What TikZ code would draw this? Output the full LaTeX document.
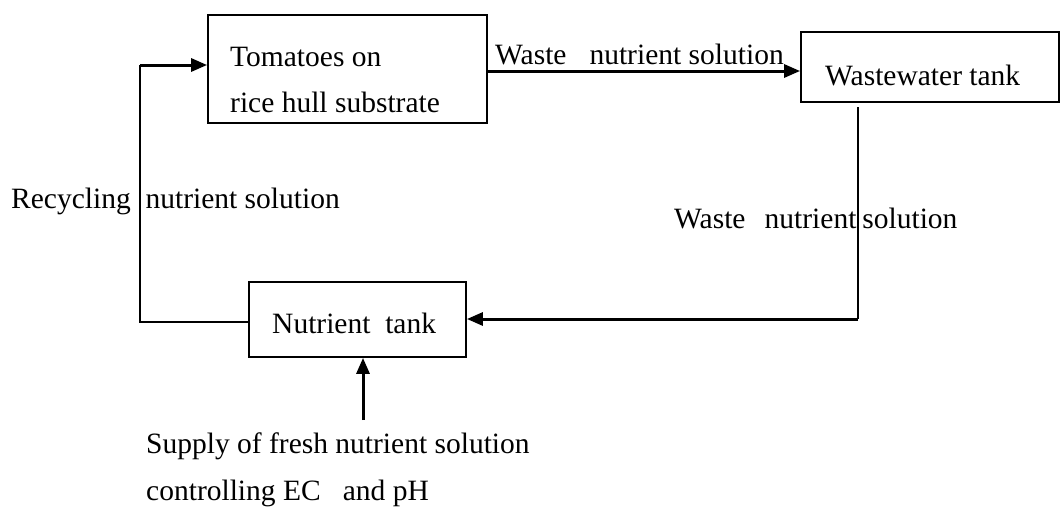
\documentclass[tikz,border=0pt]{standalone}
\usepackage{fontspec}
\setmainfont{Liberation Serif}
\usetikzlibrary{arrows.meta}
\begin{document}
\begin{tikzpicture}[x=1pt,y=-1pt,
  box/.style={draw,line width=1.8pt,inner sep=0pt},
  txt/.style={anchor=base west,inner sep=0pt,font=\fontsize{29.5}{29.5}\selectfont},
  thin line/.style={line width=1.6pt},
  flow/.style={line width=3pt,-{Triangle[length=16pt,width=13pt]}}]
\useasboundingbox (0,0) rectangle (1061,509);
% boxes
\node[box,minimum width=279pt,minimum height=108pt] (tom) at (347.5,69) {};
\node[box,minimum width=258pt,minimum height=70pt] (ww) at (930,67) {};
\node[box,minimum width=217pt,minimum height=75pt] (nt) at (357.5,319.5) {};
% box texts
\node[txt] (t1) at (230,66) {Tomatoes on};
\node[txt] (t2) at (230,112) {rice hull substrate};
\node[txt] (t3) at (825,85) {Wastewater tank};
\node[txt] (t4) at (272,333) {Nutrient\hspace{0.5em}tank};
% labels
\node[txt] (l1) at (495,64) {Waste\hspace{0.78em}nutrient solution};
\node[txt] (l2) at (11,208) {Recycling\hspace{0.5em}nutrient solution};
\node[txt] (l3) at (674,228) {Waste\hspace{0.65em}nutrient\hspace{0.2em}solution};
\node[txt] (l4) at (146,453) {Supply of fresh nutrient solution};
\node[txt] (l5) at (146,500) {controlling EC\hspace{0.75em}and pH};
% coordinates
\coordinate (rl) at (140,65);
\coordinate (lc) at (140,322);
\coordinate (rt) at (858,107);
\coordinate (rb) at (858,319);
\coordinate (sb) at (363,420);
% connectors
\draw[thin line] (nt.west |- lc) -- (lc) -- (rl);
\draw[flow] (rl) -- (tom.west |- rl);
\draw[flow] (tom.east |- 0,71) -- (ww.west |- 0,71);
\draw[thin line] (rt) -- (rb);
\draw[flow] (rb) -- (nt.east |- rb);
\draw[flow] (sb) -- (nt.south -| sb);
\end{tikzpicture}
\end{document}
